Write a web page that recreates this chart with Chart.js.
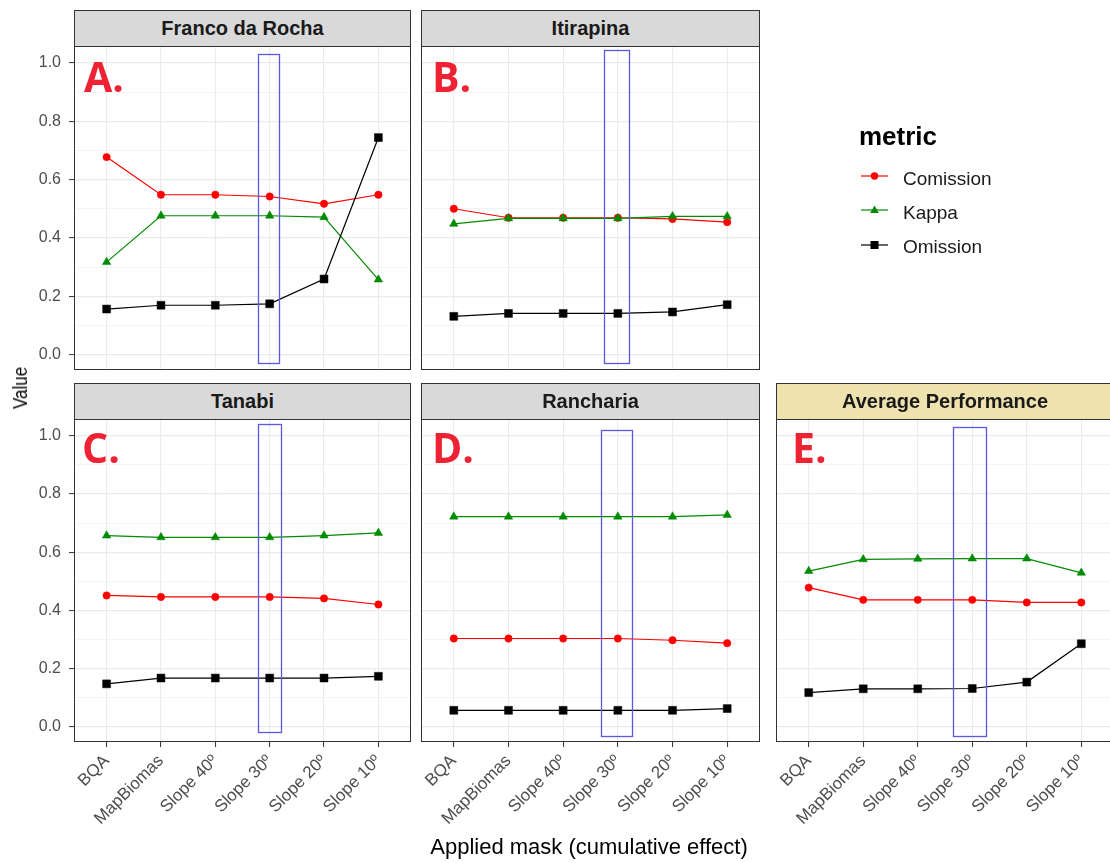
<!DOCTYPE html>
<html><head><meta charset="utf-8">
<script src="https://cdn.jsdelivr.net/npm/chart.js@4.4.1/dist/chart.umd.min.js"></script>
<style>
html,body{margin:0;padding:0;background:#fff;}
#wrap{position:relative;width:1110px;height:863px;overflow:hidden;font-family:"Liberation Sans",Arial,sans-serif;background:#fff;}
canvas{position:absolute;left:0;top:0;}
.strip{position:absolute;box-sizing:border-box;border:1px solid #333;background:#D9D9D9;color:#1A1A1A;font-weight:bold;font-size:20px;line-height:35px;text-align:center;white-space:nowrap;}
.letter{position:absolute;font-family:"Open Sans",sans-serif;font-weight:700;font-size:41px;color:#EE2233;line-height:1;white-space:nowrap;}
.lg{position:absolute;font-size:19px;line-height:1;color:#1A1A1A;white-space:nowrap;}
</style></head>
<body><div id="wrap">
<canvas id="cA" width="1120" height="863"></canvas>
<canvas id="cB" width="1120" height="863"></canvas>
<canvas id="cC" width="1120" height="863"></canvas>
<canvas id="cD" width="1120" height="863"></canvas>
<canvas id="cE" width="1120" height="863"></canvas>

<div class="strip" style="left:74px;top:10px;width:337px;height:37px;">Franco da Rocha</div>
<div class="strip" style="left:421px;top:10px;width:339px;height:37px;">Itirapina</div>
<div class="strip" style="left:74px;top:383px;width:337px;height:37px;">Tanabi</div>
<div class="strip" style="left:421px;top:383px;width:339px;height:37px;">Rancharia</div>
<div class="strip" style="left:776px;top:383px;width:338px;height:37px;background:#EEE3AF;">Average Performance</div>

<div class="letter" style="left:84px;top:56px;">A.</div>
<div class="letter" style="left:432px;top:56px;">B.</div>
<div class="letter" style="left:82px;top:427px;">C.</div>
<div class="letter" style="left:432px;top:427px;">D.</div>
<div class="letter" style="left:792px;top:427px;">E.</div>

<div style="position:absolute;left:859px;top:123px;font-weight:bold;font-size:26px;line-height:1;color:#000;">metric</div>
<svg style="position:absolute;left:860px;top:170px;" width="30" height="12"><line x1="1" y1="6" x2="28" y2="6" stroke="#FF0000" stroke-width="1.2"/><circle cx="14.5" cy="6" r="3.7" fill="#FF0000"/></svg>
<svg style="position:absolute;left:860px;top:204px;" width="30" height="12"><line x1="1" y1="6" x2="28" y2="6" stroke="#008B00" stroke-width="1.2"/><polygon points="14.5,1.5 18.8,9 10.2,9" fill="#008B00"/></svg>
<svg style="position:absolute;left:860px;top:239px;" width="30" height="12"><line x1="1" y1="6" x2="28" y2="6" stroke="#000" stroke-width="1.2"/><rect x="10.5" y="2" width="8" height="8" fill="#000"/></svg>
<div class="lg" style="left:903px;top:169px;">Comission</div>
<div class="lg" style="left:903px;top:203px;">Kappa</div>
<div class="lg" style="left:903px;top:237px;">Omission</div>

<div style="position:absolute;left:339px;top:836px;width:500px;text-align:center;font-size:22px;line-height:1;color:#000;">Applied mask (cumulative effect)</div>
<div style="position:absolute;left:-30px;top:378px;width:100px;text-align:center;font-size:20px;line-height:1;color:#000;transform:rotate(-90deg) scaleX(0.85);">Value</div>
</div>
<script>
const categories = ['BQA', 'MapBiomas', 'Slope 40º', 'Slope 30º', 'Slope 20º', 'Slope 10º'];
const yTickValues = [0, 0.1, 0.2, 0.3, 0.4, 0.5, 0.6, 0.7, 0.8, 0.9, 1.0];
const metricNames = ['Comission', 'Kappa', 'Omission'];

const francoComission = [0.677, 0.548, 0.548, 0.542, 0.517, 0.548];
const francoKappa     = [0.317, 0.476, 0.476, 0.476, 0.471, 0.257];
const francoOmission  = [0.156, 0.169, 0.169, 0.174, 0.259, 0.744];

const itirapinaComission = [0.500, 0.469, 0.469, 0.469, 0.465, 0.454];
const itirapinaKappa     = [0.448, 0.467, 0.467, 0.467, 0.474, 0.474];
const itirapinaOmission  = [0.131, 0.141, 0.141, 0.141, 0.146, 0.171];

const tanabiComission = [0.451, 0.446, 0.446, 0.446, 0.441, 0.420];
const tanabiKappa     = [0.657, 0.651, 0.651, 0.651, 0.657, 0.666];
const tanabiOmission  = [0.147, 0.167, 0.167, 0.167, 0.167, 0.173];

const ranchariaComission = [0.303, 0.303, 0.303, 0.303, 0.297, 0.287];
const ranchariaKappa     = [0.722, 0.722, 0.722, 0.722, 0.722, 0.728];
const ranchariaOmission  = [0.056, 0.056, 0.056, 0.056, 0.056, 0.062];

const averageComission = [0.478, 0.436, 0.436, 0.436, 0.427, 0.427];
const averageKappa     = [0.535, 0.575, 0.577, 0.578, 0.578, 0.529];
const averageOmission  = [0.117, 0.130, 0.130, 0.131, 0.153, 0.285];

// highlight boxes around "Slope 30º" (x in category units, y in value units)
const highlightA = [2.79, 3.17, -0.031, 1.029];
const highlightB = [2.74, 3.19, -0.031, 1.043];
const highlightC = [2.79, 3.22, -0.020, 1.040];
const highlightD = [2.69, 3.25, -0.034, 1.019];
const highlightE = [2.65, 3.26, -0.032, 1.031];

const COLORS = {Comission: '#FF0000', Kappa: '#008B00', Omission: '#000000'};
const STYLES = {Comission: ['circle', 3.7], Kappa: ['triangle', 4.9], Omission: ['rect', 5.6]};
const ORDERS = {Comission: 3, Kappa: 2, Omission: 1};

const borderPlugin = {
  id: 'panelBorder',
  afterDraw(chart) {
    const a = chart.chartArea, ctx = chart.ctx;
    ctx.save();
    ctx.strokeStyle = '#333333';
    ctx.lineWidth = 1;
    ctx.strokeRect(a.left + 0.5, a.top + 0.5, a.right - a.left - 1, a.bottom - a.top - 1);
    ctx.restore();
  }
};
const highlightPlugin = {
  id: 'highlight',
  afterDatasetsDraw(chart, args, opts) {
    if (!opts || !opts.box) return;
    const [x0, x1, y0, y1] = opts.box;
    const xs = chart.scales.x, ys = chart.scales.y, ctx = chart.ctx;
    const px0 = xs.getPixelForValue(x0), px1 = xs.getPixelForValue(x1);
    const py0 = ys.getPixelForValue(y1), py1 = ys.getPixelForValue(y0);
    ctx.save();
    ctx.strokeStyle = '#5A5AE0';
    ctx.lineWidth = 1.3;
    ctx.strokeRect(Math.round(px0) + 0.5, Math.round(py0) + 0.5, Math.round(px1 - px0), Math.round(py1 - py0));
    ctx.restore();
  }
};

function makePanel(id, values, box, geom, showY, showX) {
  const [L, T, R, B] = geom;
  const W = 1120, H = 863;
  const yw = showY ? L : 0;
  const xh = showX ? 110 : 0;
  const datasets = metricNames.map((m, k) => ({
    label: m,
    data: values[k].map((v, i) => ({x: i, y: v})),
    borderColor: COLORS[m],
    backgroundColor: COLORS[m],
    pointBackgroundColor: COLORS[m],
    pointBorderColor: COLORS[m],
    pointBorderWidth: 0.5,
    pointStyle: STYLES[m][0],
    pointRadius: STYLES[m][1],
    borderWidth: 1.2,
    tension: 0,
    order: ORDERS[m],
    clip: false
  }));
  const isMajor = (ctx) => ctx.tick && Math.round(ctx.tick.value * 10) % 2 === 0;
  new Chart(document.getElementById(id), {
    type: 'line',
    data: {datasets},
    plugins: [borderPlugin, highlightPlugin],
    options: {
      responsive: false,
      animation: false,
      devicePixelRatio: 1,
      events: [],
      layout: {autoPadding: false, padding: {left: L - yw, top: T, right: W - R, bottom: H - B - xh}},
      plugins: {legend: {display: false}, tooltip: {enabled: false}, highlight: {box}},
      scales: {
        x: {
          type: 'linear', min: -0.6, max: 5.6,
          afterBuildTicks: (s) => { s.ticks = categories.map((c, i) => ({value: i})); },
          afterFit: (s) => { s.height = xh; },
          border: {display: false},
          grid: {color: '#EBEBEB', lineWidth: 1.1, drawTicks: showX, tickLength: 5, tickColor: '#333333', tickWidth: 1},
          ticks: {
            display: showX, autoSkip: false, minRotation: 45, maxRotation: 45, padding: 4,
            color: '#4D4D4D', font: {family: 'Liberation Sans', size: 17},
            callback: (v) => categories[v]
          }
        },
        y: {
          type: 'linear', min: -0.053, max: 1.058,
          afterBuildTicks: (s) => { s.ticks = yTickValues.map(v => ({value: v})); },
          afterFit: (s) => { s.width = yw; },
          border: {display: false},
          grid: {
            color: (c) => isMajor(c) ? '#EBEBEB' : '#F1F1F1',
            lineWidth: (c) => isMajor(c) ? 1.2 : 0.8,
            drawTicks: showY, tickLength: 5, tickWidth: 1,
            tickColor: (c) => isMajor(c) ? '#333333' : 'rgba(0,0,0,0)'
          },
          ticks: {
            display: showY, padding: 8, color: '#4D4D4D', font: {family: 'Liberation Sans', size: 16},
            callback: (v) => (Math.round(v * 10) % 2 === 0 ? v.toFixed(1) : '')
          }
        }
      }
    }
  });
}

makePanel('cA', [francoComission, francoKappa, francoOmission], highlightA, [74, 46, 411, 370], true, false);
makePanel('cB', [itirapinaComission, itirapinaKappa, itirapinaOmission], highlightB, [421, 46, 760, 370], false, false);
makePanel('cC', [tanabiComission, tanabiKappa, tanabiOmission], highlightC, [74, 419, 411, 742], true, true);
makePanel('cD', [ranchariaComission, ranchariaKappa, ranchariaOmission], highlightD, [421, 419, 760, 742], false, true);
makePanel('cE', [averageComission, averageKappa, averageOmission], highlightE, [776, 419, 1114, 742], false, true);
</script>
</body></html>
